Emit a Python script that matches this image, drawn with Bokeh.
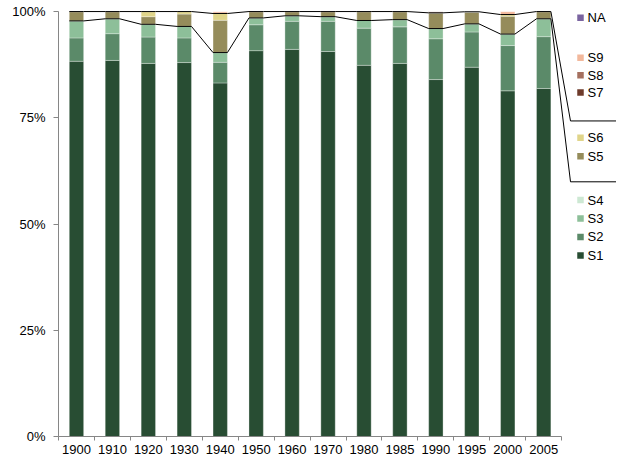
import numpy as np
from bokeh.plotting import figure
from bokeh.models import Range1d, FixedTicker, PrintfTickFormatter, ColumnDataSource
from bokeh.core.properties import value
from bokeh.embed import file_html
from bokeh.resources import INLINE

# ---------------- data ----------------
years = ["1900", "1910", "1920", "1930", "1940", "1950", "1960",
         "1970", "1980", "1985", "1990", "1995", "2000", "2005"]
S1 = [88.3, 88.5, 87.8, 88.0, 83.2, 90.8, 91.1, 90.6, 87.35, 87.8, 84.0, 86.9, 81.35, 81.9]
S2 = [5.5, 6.3, 6.2, 5.8, 4.85, 6.1, 6.6, 7.1, 8.75, 8.6, 9.6, 8.3, 10.65, 12.2]
S3 = [4.0, 3.5, 3.0, 2.7, 2.3, 1.6, 1.3, 1.1, 1.8, 1.7, 2.4, 1.9, 2.7, 4.2]
S4 = [0, 0, 0, 0, 0, 0, 0, 0, 0, 0, 0, 0, 0, 0]
S5 = [2.2, 1.7, 1.8, 2.9, 7.6, 1.5, 1.0, 1.2, 2.1, 1.9, 3.7, 2.85, 4.2, 1.7]
S6 = [0, 0, 1.2, 0.6, 1.6, 0, 0, 0, 0, 0, 0, 0, 0.4, 0]
S7 = [0, 0, 0, 0, 0, 0, 0, 0, 0, 0, 0, 0, 0, 0]
S8 = [0, 0, 0, 0, 0, 0, 0, 0, 0, 0, 0.3, 0, 0, 0]
S9 = [0, 0, 0, 0, 0.4, 0, 0, 0, 0, 0, 0, 0, 0.7, 0]
NA = [0, 0, 0, 0, 0, 0, 0, 0, 0, 0, 0, 0, 0, 0]

series_names = ["S1", "S2", "S3", "S4", "S5", "S6", "S7", "S8", "S9", "NA"]
series_values = [S1, S2, S3, S4, S5, S6, S7, S8, S9, NA]
colors = ["#284d33", "#5b8a69", "#8dbf99", "#cde8d3", "#958c5b",
          "#e0d58a", "#6e3b2b", "#a5705f", "#f2b89c", "#7a64a0"]
y_ticks = [0, 25, 50, 75, 100]

# legend groups (top to bottom)
legend_groups = [["NA"], ["S9", "S8", "S7"], ["S6", "S5"], ["S4", "S3", "S2", "S1"]]

# ---------------- layout constants (pixels) ----------------
W, H = 616, 456
BORDER_L, BORDER_R, BORDER_T, BORDER_B = 58, 0, 10, 19
CAT_W = 35.94          # pixel width of a category
BAR_W = 0.4            # bar width in category units
Y_END = 100.25
frame_left = BORDER_L
frame_w = W - BORDER_L - BORDER_R
frame_bottom = H - BORDER_B
frame_h = H - BORDER_T - BORDER_B
X_START = -0.5
X_END = X_START + frame_w / CAT_W

def px_to_x(px):
    return (px - frame_left) / CAT_W + X_START

def py_to_y(py):
    return (frame_bottom - py) / frame_h * Y_END

# legend layout in pixels
LEG_SWATCH_X = 580
LEG_TEXT_X = 587
LEG_ITEM_Y = {"NA": 17.3, "S9": 57.3, "S8": 74.8, "S7": 92.3,
              "S6": 137.5, "S5": 156, "S4": 200, "S3": 218.5, "S2": 237, "S1": 255.5}
LEG_LINE_X = 570
LEG_LINE_Y = [120.7, 181.7]   # separators: top of S6 group, top of S4 group

# ---------------- figure ----------------
n = len(years)
xs = list(range(n))
data = {"x": xs}
for nm, vals in zip(series_names, series_values):
    data[nm] = vals
source = ColumnDataSource(data)

p = figure(width=W, height=H, output_backend="svg", toolbar_location=None,
           x_range=Range1d(X_START, X_END), y_range=Range1d(0, Y_END),
           min_border_left=BORDER_L, min_border_right=BORDER_R,
           min_border_top=BORDER_T, min_border_bottom=BORDER_B)
p.outline_line_color = None
p.xgrid.visible = False
p.ygrid.visible = False
p.background_fill_color = "white"
p.border_fill_color = "white"

p.vbar_stack(series_names, x="x", width=BAR_W, color=colors, source=source,
             line_color="white", line_alpha=0.45, line_width=0.7)

# series lines (top of S1..S4 and top of S1..S6), continuing to legend separators
arr = np.array(series_values, dtype=float)
cum_B = arr[:4].sum(axis=0)
cum_A = arr[:6].sum(axis=0)
for cum, ly in zip([cum_A, cum_B], LEG_LINE_Y):
    lx, lyv = [], []
    for i in xs:
        lx += [i - BAR_W / 2, i + BAR_W / 2]
        lyv += [cum[i], cum[i]]
    lx += [px_to_x(LEG_LINE_X), X_END]
    lyv += [py_to_y(ly), py_to_y(ly)]
    p.line(lx, lyv, line_color="black", line_width=1)

# legend
color_of = dict(zip(series_names, colors))
leg_names = [nm for g in legend_groups for nm in g]
leg_src = ColumnDataSource(dict(
    sx=[px_to_x(LEG_SWATCH_X)] * len(leg_names),
    tx=[px_to_x(LEG_TEXT_X)] * len(leg_names),
    y=[py_to_y(LEG_ITEM_Y[nm]) for nm in leg_names],
    c=[color_of[nm] for nm in leg_names],
    t=leg_names))
p.scatter(x="sx", y="y", marker="square", size=6.5, fill_color="c",
          line_color=None, source=leg_src)
p.text(x="tx", y="y", text="t", source=leg_src, text_baseline="middle",
       text_align="left", text_font=value("Liberation Sans"),
       text_font_size="13px", text_color="#000000")

# axes
axis_col = "#868686"
xa = p.xaxis[0]
xa.ticker = FixedTicker(ticks=xs, minor_ticks=[i - 0.5 for i in range(n + 1)])
xa.major_label_overrides = {i: y for i, y in enumerate(years)}
xa.bounds = (-0.5, n - 0.5)
xa.axis_line_color = axis_col
xa.major_tick_out = 0
xa.major_tick_in = 0
xa.minor_tick_out = 4
xa.minor_tick_in = 0
xa.minor_tick_line_color = axis_col
xa.major_label_standoff = 4
xa.major_label_text_font = "Liberation Sans"
xa.major_label_text_font_size = "13px"
xa.major_label_text_color = "#000000"

ya = p.yaxis[0]
ya.ticker = FixedTicker(ticks=y_ticks, minor_ticks=[])
ya.formatter = PrintfTickFormatter(format="%d%%")
ya.bounds = (0, 100)
ya.axis_line_color = axis_col
ya.major_tick_line_color = axis_col
ya.major_tick_out = 5
ya.major_tick_in = 0
ya.minor_tick_out = 0
ya.major_label_standoff = 8
ya.major_label_text_font = "Liberation Sans"
ya.major_label_text_font_size = "13px"
ya.major_label_text_color = "#000000"

open("out.html", "w").write(file_html(p, INLINE))
